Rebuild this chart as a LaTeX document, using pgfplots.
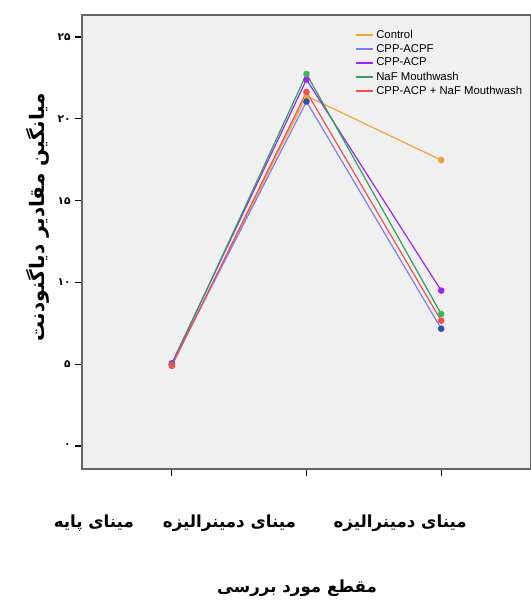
\documentclass[border=0pt]{standalone}
\usepackage{fontspec}
\usepackage{pgfplots}
\pgfplotsset{compat=1.18}
\setmainfont{Liberation Sans}
\newfontfamily\fa[Script=Arabic]{DejaVu Sans}
\TeXXeTstate=1
\definecolor{cOrange}{RGB}{240,165,50}
\definecolor{cBlueLine}{RGB}{125,125,240}
\definecolor{cBlueMark}{RGB}{50,80,170}
\definecolor{cPurple}{RGB}{150,40,240}
\definecolor{cGreen}{RGB}{50,160,90}
\definecolor{cGreenMark}{RGB}{60,180,90}
\definecolor{cRed}{RGB}{240,80,80}
\definecolor{bg}{RGB}{240,240,240}
\newcommand\tl[2]{\makebox[0pt]{\kern#1\relax\hbox{\fa\bfseries #2}\kern-#1\relax}}
\begin{document}
\begin{tikzpicture}
\begin{axis}[
  scale only axis, width=336.75pt, height=340.5pt,
  xmin=-0.667, xmax=2.667, ymin=-1.41, ymax=26.35,
  axis background/.style={fill=bg},
  axis line style={black!60, line width=0.9pt},
  clip=false,
  xtick pos=bottom, ytick pos=left,
  xtick={0,1,2},
  xticklabels={{\tl{-58.5pt}{\beginR مینای پایه\endR}},{\tl{-57.75pt}{\beginR مینای دمینرالیزه\endR}},{\tl{-30.75pt}{\beginR مینای دمینرالیزه\endR}}},
  xticklabel style={anchor=center, yshift=-35.5pt, font=\fontsize{12.5}{14}\selectfont},
  ytick={0,5,10,15,20,25},
  yticklabels={۰,۵,۱۰,۱۵,۲۰,۲۵},
  yticklabel style={font=\fa\bfseries\fontsize{8}{9}\selectfont},
  tick align=outside, major tick length=5pt,
  tick style={black, line width=0.9pt},
  every axis y label/.style={at={(axis description cs:-0.098,0.555)}, rotate=90, anchor=center},
  ylabel={\fa\bfseries\fontsize{15}{17}\selectfont\beginR میانگین مقادیر دیاگنودنت\endR},
  every axis x label/.style={at={(axis description cs:0.479,-0.262)}, anchor=center},
  xlabel={\fa\bfseries\fontsize{12.5}{14}\selectfont\beginR مقطع مورد بررسی\endR},
  legend style={at={(0.600,0.978)}, anchor=north west, draw=none, fill=none,
    font=\fontsize{8.5}{10}\selectfont, row sep=0pt, nodes={inner sep=1.5pt}},
  legend cell align=left,
  legend image code/.code={\draw[#1, mark=none, line width=1.2pt] (0pt,0pt) -- (12.75pt,0pt);},
  every axis plot/.append style={line width=0.9pt, mark=*, mark size=2pt},
]
\addplot[cOrange, mark options={fill=cOrange, draw=cOrange}] coordinates {(0,4.95) (1,21.4) (2,17.48)};
\addlegendentry{Control}
\addplot[cBlueLine, mark options={fill=cBlueMark, draw=cBlueMark}] coordinates {(0,5.0) (1,21.06) (2,7.17)};
\addlegendentry{CPP-ACPF}
\addplot[cPurple, mark options={fill=cPurple, draw=cPurple}] coordinates {(0,5.05) (1,22.4) (2,9.5)};
\addlegendentry{CPP-ACP}
\addplot[cGreen, mark options={fill=cGreenMark, draw=cGreenMark}] coordinates {(0,4.95) (1,22.74) (2,8.07)};
\addlegendentry{NaF Mouthwash}
\addplot[cRed, mark options={fill=cRed, draw=cRed}] coordinates {(0,4.9) (1,21.64) (2,7.66)};
\addlegendentry{CPP-ACP + NaF Mouthwash}
\end{axis}
\pgfresetboundingbox
\path[use as bounding box] ([xshift=-61.5pt,yshift=-100.5pt]current axis.south west) rectangle ([yshift=11.25pt]current axis.north east);
\end{tikzpicture}
\end{document}
